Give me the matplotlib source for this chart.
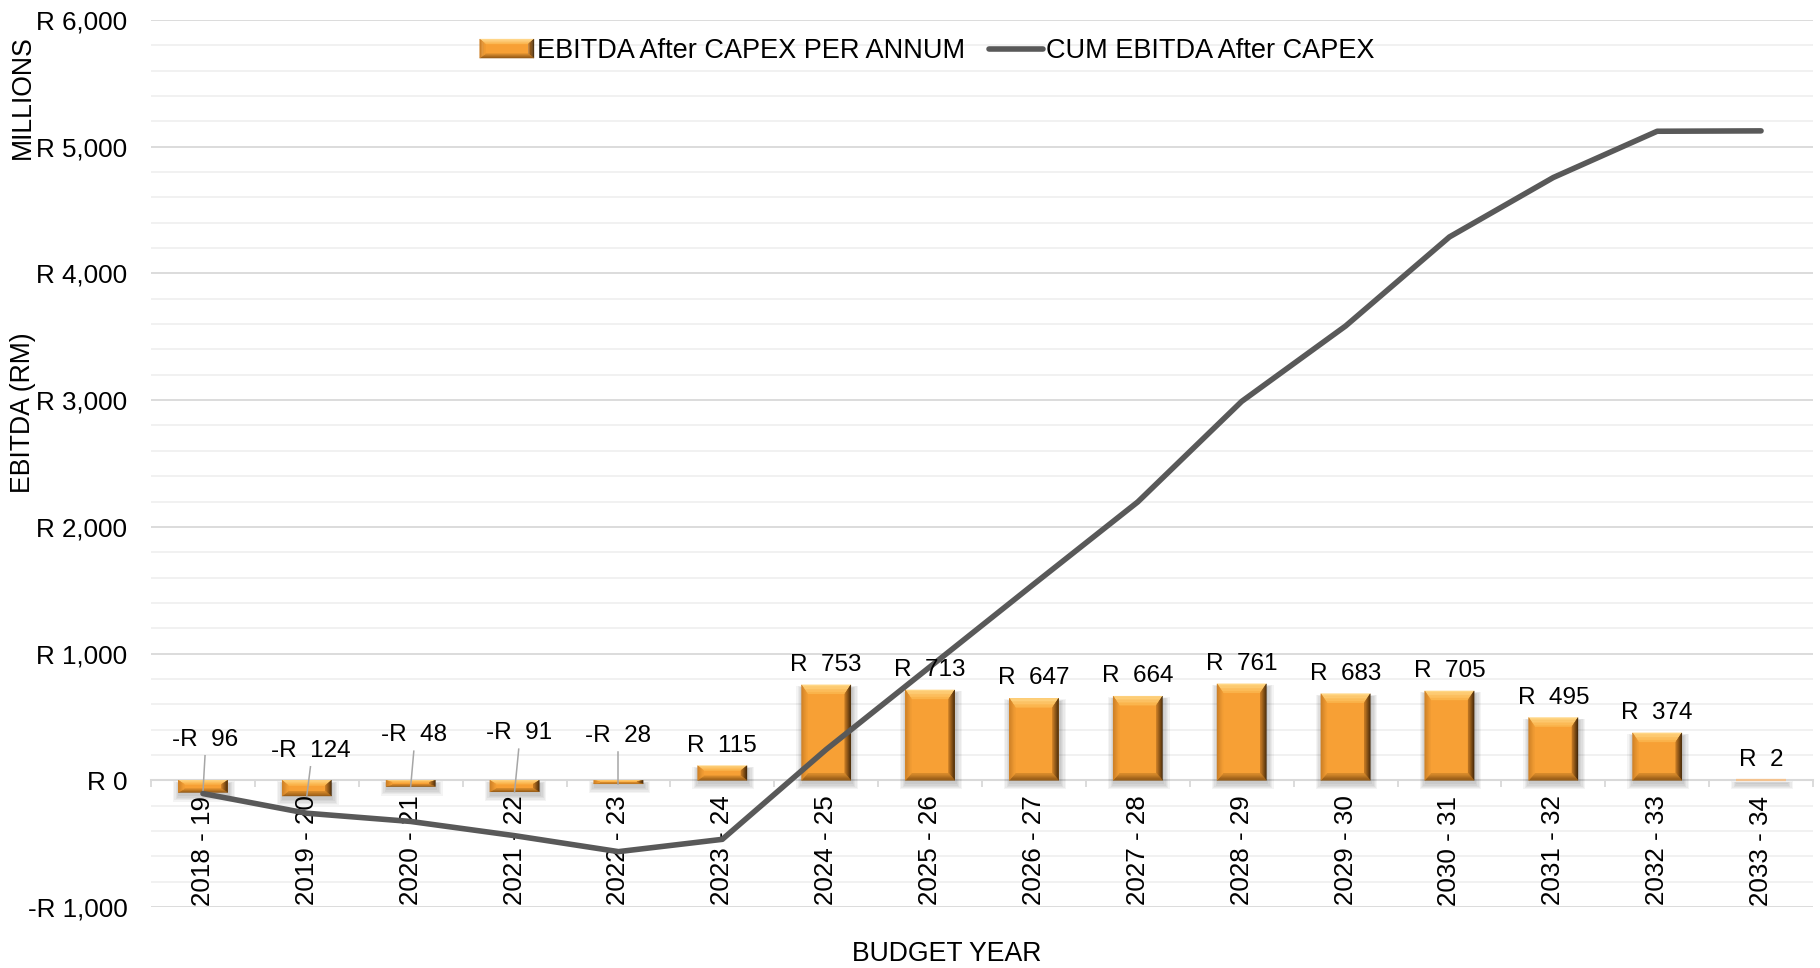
import matplotlib
matplotlib.use('Agg')
import matplotlib.pyplot as plt
import matplotlib.colors as mcolors
from matplotlib.patches import Polygon
from matplotlib.legend_handler import HandlerBase
from matplotlib.lines import Line2D
from matplotlib.ticker import MultipleLocator, FuncFormatter
import numpy as np

plt.rcParams['font.family'] = ['Liberation Sans', 'DejaVu Sans']

# ---------------- data ----------------
years = ['2018 - 19', '2019 - 20', '2020 - 21', '2021 - 22', '2022 - 23', '2023 - 24',
         '2024 - 25', '2025 - 26', '2026 - 27', '2027 - 28', '2028 - 29', '2029 - 30',
         '2030 - 31', '2031 - 32', '2032 - 33', '2033 - 34']
ebitda_pa = [-96, -124, -48, -91, -28, 115, 753, 713, 647, 664, 761, 683, 705, 495, 374, 2]
cum_ebitda = [-105, -260, -325, -437, -563, -466, 243, 896, 1549, 2197, 2990, 3585,
              4288, 4757, 5122, 5125]
# manually placed labels for the negative bars (value-axis position, x nudge)
neg_label_y = [320, 233, 356, 372, 352]
neg_label_dx = [0.02, 0.035, 0.03, 0.04, 0.0]

series_bar = 'EBITDA After CAPEX PER ANNUM'
series_line = 'CUM EBITDA After CAPEX'

# ---------------- style ----------------
FACE = '#F7A035'
SIDE_COLORS = {
    'top': ('#FFD98A', '#FBB247'),
    'right': ('#3A2207', '#C27722'),
    'bottom': ('#8C5414', '#D88B2B'),
    'left': ('#C97D25', '#F49E34'),
}
LINE_C = '#595959'
FS_TICK = 18.7
FS_TITLE = 19.2
FS_LEG = 19.5
FS_LBL = 17.5


def mix(c1, c2, t):
    a = np.array(mcolors.to_rgb(c1))
    b = np.array(mcolors.to_rgb(c2))
    return tuple(a * (1 - t) + b * t)


def bevel_pieces(L, B, R, T, bx, bt, bb, n=6):
    outer = {'LB': (L, B), 'RB': (R, B), 'RT': (R, T), 'LT': (L, T)}
    inner = {'LB': (L + bx, B + bb), 'RB': (R - bx, B + bb),
             'RT': (R - bx, T - bt), 'LT': (L + bx, T - bt)}

    def P(k, f):
        return (outer[k][0] * (1 - f) + inner[k][0] * f,
                outer[k][1] * (1 - f) + inner[k][1] * f)

    pieces = [([inner['LB'], inner['RB'], inner['RT'], inner['LT']], FACE)]
    sides = {'top': ('LT', 'RT'), 'right': ('RT', 'RB'),
             'bottom': ('RB', 'LB'), 'left': ('LB', 'LT')}
    for s, (k1, k2) in sides.items():
        c_out, c_in = SIDE_COLORS[s]
        for j in range(n):
            a, b = j / n, (j + 1) / n
            verts = [P(k1, a), P(k2, a), P(k2, b), P(k1, b)]
            pieces.append((verts, mix(c_out, c_in, (a + b) / 2)))
    return pieces


class BevelHandler(HandlerBase):
    def create_artists(self, legend, orig_handle, xdescent, ydescent,
                       width, height, fontsize, trans):
        L, B = -xdescent, -ydescent
        R, T = L + width, B + height
        arts = []
        for verts, c in bevel_pieces(L, B, R, T, 4.0, 3.5, 3.0, n=4):
            p = Polygon(verts, closed=True, facecolor=c, edgecolor=c, lw=0.3,
                        transform=trans)
            arts.append(p)
        return arts


# ---------------- figure ----------------
W, H = 1820, 968
fig = plt.figure(figsize=(W / 100, H / 100), dpi=100)
ax = fig.add_axes([151 / W, 61 / H, 1662 / W, 887 / H])

x = np.arange(len(years))
ax.set_xlim(-0.5, len(years) - 0.5)
ax.set_ylim(-1000, 6000)

ax.yaxis.set_major_locator(MultipleLocator(1000))
ax.yaxis.set_minor_locator(MultipleLocator(200))


def rfmt(v, pos=None):
    v = int(round(v))
    return ('-R {:,}'.format(-v)) if v < 0 else 'R {:,}'.format(v)


ax.yaxis.set_major_formatter(FuncFormatter(rfmt))
ax.grid(which='major', axis='y', color='#d9d9d9', lw=1.3, zorder=0)
ax.grid(which='minor', axis='y', color='#f0f0f0', lw=1.3, zorder=0)
ax.set_axisbelow(True)
# category labels must sit above the horizontal gridlines
ax.xaxis.set_zorder(1.0)

for s in ['left', 'right', 'top']:
    ax.spines[s].set_visible(False)
ax.spines['bottom'].set_position(('data', 0))
ax.spines['bottom'].set_color('#d9d9d9')
ax.spines['bottom'].set_linewidth(1.5)
ax.spines['bottom'].set_zorder(1.5)

ax.set_xticks(x)
ax.set_xticklabels(years, rotation=90, fontsize=FS_TICK)
ax.set_xticks(np.arange(-0.5, len(years), 1.0), minor=True)
ax.tick_params(axis='x', which='major', length=0, pad=11)
ax.tick_params(axis='x', which='minor', length=5, width=1.3, color='#d9d9d9',
               direction='out')
ax.tick_params(axis='y', which='both', length=0, pad=17, labelsize=FS_TICK)

# bars (base) through library
bw = 0.475
bars = ax.bar(x, ebitda_pa, width=bw, color=FACE, edgecolor='none', zorder=2)

# bevel + shadow overlay derived from each bar's geometry
fig.canvas.draw()
to_data = ax.transData.inverted()
for rect in bars:
    bb_ = rect.get_window_extent()
    L, R = bb_.x0, bb_.x1
    B, T = bb_.y0, bb_.y1
    w = R - L
    h = T - B
    # soft drop shadow
    for k in range(5):
        e = 1.0 + k * 1.3
        sv = [(L + 1 - e, B - 3 - e), (R + 1 + e, B - 3 - e),
              (R + 1 + e, T - 3 + e * 0.3), (L + 1 - e, T - 3 + e * 0.3)]
        sv = to_data.transform(sv)
        ax.add_patch(Polygon(sv, closed=True, facecolor='black', edgecolor='none',
                             alpha=0.045, zorder=1.8))
    bx = min(6.0, 0.14 * w)
    bt = min(9.0, 0.33 * h)
    bbm = min(7.0, 0.3 * h)
    for verts, c in bevel_pieces(L, B, R, T, bx, bt, bbm, n=6):
        dv = to_data.transform(verts)
        ax.add_patch(Polygon(dv, closed=True, facecolor=c, edgecolor=c, lw=0.3,
                             zorder=2.1))
    if h < 2:
        ax.plot(to_data.transform([(L, B + h / 2), (R, B + h / 2)])[:, 0],
                [rect.get_y() + rect.get_height() / 2] * 2,
                color='#F3C28F', lw=1.6, zorder=2.2, solid_capstyle='butt')

# cumulative line
ax.plot(x, cum_ebitda, color=LINE_C, lw=4, solid_capstyle='round',
        solid_joinstyle='round', zorder=5)

# data labels
dy_per_px = 7000 / 887.0
ni = 0
for i, v in enumerate(ebitda_pa):
    if v < 0:
        ly = neg_label_y[ni]
        lx = i + neg_label_dx[ni]
        ni += 1
        ax.text(lx, ly, '-R  {}'.format(-v), ha='center', va='center',
                fontsize=FS_LBL, zorder=6)
        ax.plot([lx, i], [ly - 16 * dy_per_px, v], color='#a6a6a6', lw=1.1, zorder=4)
    else:
        ax.annotate('R  {}'.format(v), (i, v), xytext=(0, 6.5), textcoords='offset points',
                    ha='center', va='bottom', fontsize=FS_LBL, zorder=6)

# axis titles
fig.text(23 / W, 1 - 413 / H, 'EBITDA (RM)', rotation=90, ha='center', va='center',
         fontsize=FS_TITLE)
fig.text(23 / W, 1 - 97 / H, 'MILLIONS', rotation=90, ha='center', va='center',
         fontsize=FS_TITLE)
fig.text(947 / W, 1 - 954 / H, 'BUDGET YEAR', ha='center', va='center', fontsize=FS_TITLE)

# legend
line_handle = Line2D([], [], color=LINE_C, lw=4, solid_capstyle='round')
leg = ax.legend([bars, line_handle], [series_bar, series_line],
                handler_map={type(bars): BevelHandler()},
                loc='center', bbox_to_anchor=(0.467, 0.965), ncol=2, frameon=False,
                fontsize=FS_LEG, handlelength=2.0, handleheight=0.7,
                handletextpad=0.1, columnspacing=0.9)
leg.set_zorder(7)

fig.savefig('out.png', dpi=100)
